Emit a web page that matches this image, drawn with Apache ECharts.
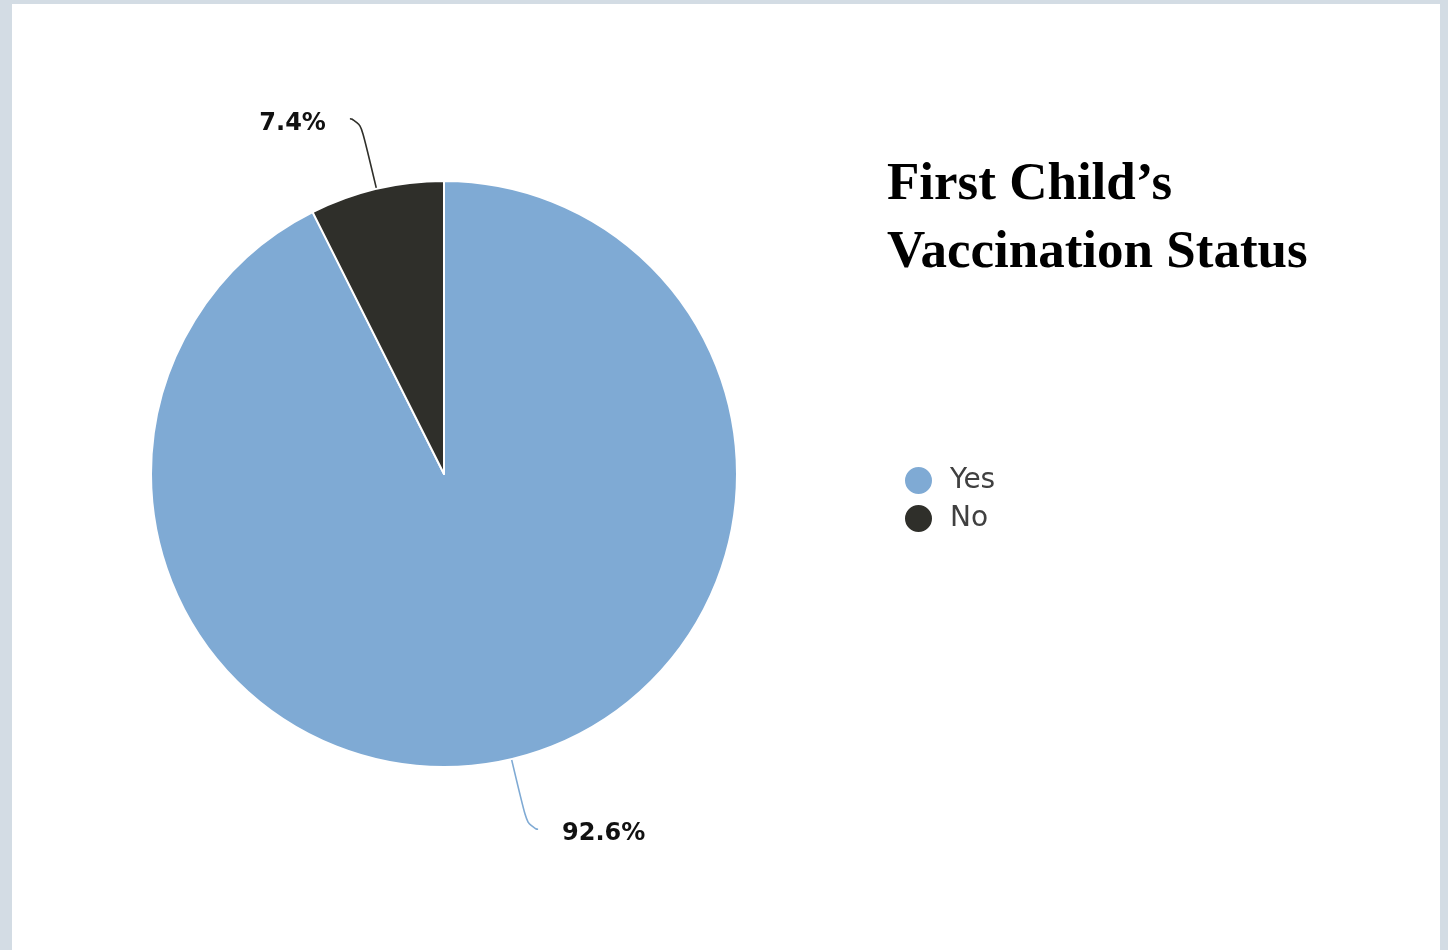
<!DOCTYPE html>
<html>
<head>
<meta charset="utf-8">
<script src="https://cdn.jsdelivr.net/npm/echarts@6/dist/echarts.min.js"></script>
<style>
  html, body { margin: 0; padding: 0; background: #d3dce4; }
  #chart { width: 1448px; height: 950px; }
</style>
</head>
<body>
<div id="chart"></div>
<script>
// categories and shares (percent)
const categories = ['Yes', 'No']
const shares = [92.6, 7.4]
const sliceColors = ['#7faad4', '#2f2f2a']

const chart = echarts.init(document.getElementById('chart'))

const option = {
  backgroundColor: '#d3dce4',
  animation: false,
  graphic: [
    {
      type: 'rect',
      z: -1,
      shape: { x: 12, y: 4, width: 1428, height: 946 },
      style: { fill: '#ffffff' }
    }
  ],
  title: {
    text: 'First Child\u2019s\nVaccination Status',
    left: 882,
    top: 146,
    textStyle: {
      fontFamily: 'Liberation Serif',
      fontWeight: 'bold',
      fontSize: 53,
      lineHeight: 68,
      color: '#000000'
    }
  },
  legend: {
    orient: 'vertical',
    left: 898,
    top: 460,
    icon: 'circle',
    itemWidth: 29,
    itemHeight: 29,
    itemGap: 7,
    data: categories,
    textStyle: {
      fontFamily: 'DejaVu Sans',
      fontSize: 28,
      lineHeight: 29,
      color: '#404040',
      padding: [0, 0, 0, 12]
    }
  },
  series: [
    {
      type: 'pie',
      center: [444, 474],
      radius: 293,
      startAngle: 90,
      clockwise: true,
      avoidLabelOverlap: false,
      itemStyle: { borderColor: '#ffffff', borderWidth: 2 },
      label: {
        show: true,
        position: 'outside',
        distanceToLabelLine: 24,
        formatter: p => '{v|' + p.value.toFixed(1) + '%}',
        rich: {
          v: {
            fontFamily: 'DejaVu Sans',
            fontWeight: 'bold',
            fontSize: 24,
            color: '#111111',
            padding: [9, 0, 0, 0]
          }
        }
      },
      labelLine: {
        show: true,
        length: 72,
        length2: 10,
        smooth: 0.8,
        lineStyle: { width: 1.6 }
      },
      data: categories.map((name, i) => ({
        name,
        value: shares[i],
        itemStyle: { color: sliceColors[i] }
      }))
    }
  ]
}

chart.setOption(option)
</script>
</body>
</html>
